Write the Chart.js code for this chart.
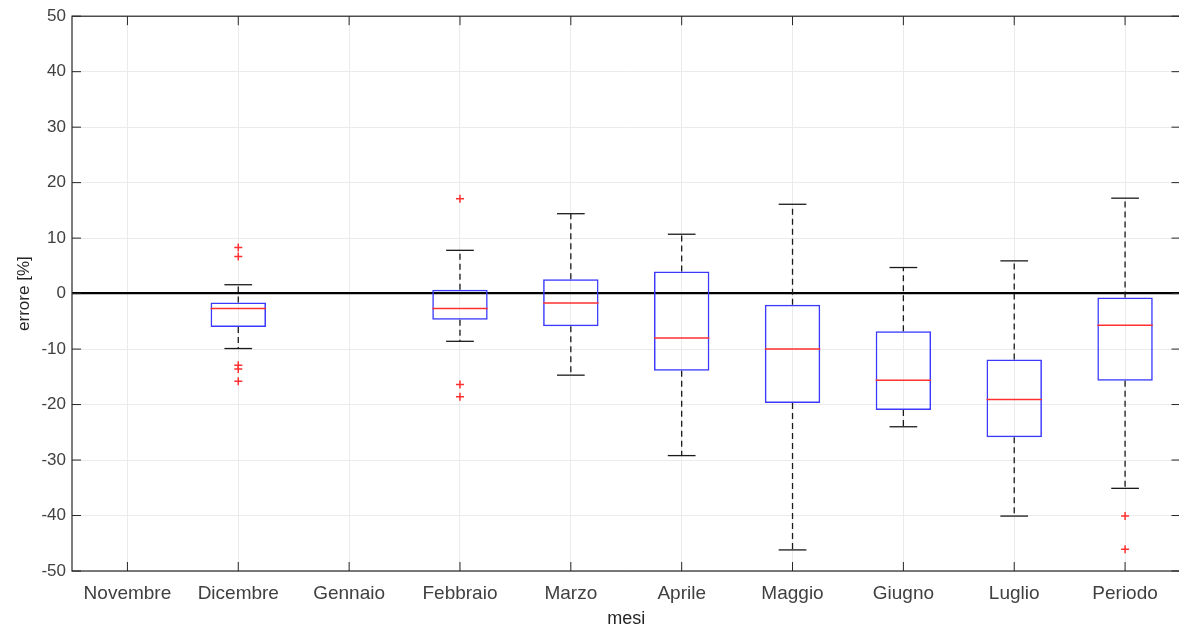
<!DOCTYPE html>
<html>
<head>
<meta charset="utf-8">
<script src="https://cdn.jsdelivr.net/npm/chart.js@4"></script>
<style>
  html, body { margin: 0; padding: 0; background: #fff; overflow: hidden; }
  canvas { display: block; }
</style>
</head>
<body>
<canvas id="chart-errore" width="1186" height="630"></canvas>
<script>
const categories = ['Novembre', 'Dicembre', 'Gennaio', 'Febbraio', 'Marzo', 'Aprile', 'Maggio', 'Giugno', 'Luglio', 'Periodo'];
const whiskerLow = [null, -9.9, null, -8.6, -14.7, -29.2, -46.2, -24.0, -40.1, -35.1];
const q1 = [null, -6.0, null, -4.7, -5.9, -13.9, -19.7, -21.0, -25.9, -15.7];
const medians = [null, -2.7, null, -2.7, -1.7, -8.0, -10.0, -15.6, -19.1, -5.7];
const q3 = [null, -1.6, null, 0.7, 2.6, 4.0, -2.0, -6.8, -11.9, -0.7];
const whiskerHigh = [null, 1.6, null, 7.8, 14.4, 10.7, 16.1, 4.7, 5.9, 17.2];
const outlierMonths = ['Dicembre', 'Dicembre', 'Dicembre', 'Dicembre', 'Dicembre', 'Febbraio', 'Febbraio', 'Febbraio', 'Periodo', 'Periodo'];
const outlierValues = [8.3, 6.7, -12.9, -13.6, -15.8, 17.1, -16.4, -18.6, -40.1, -46.1];
const yTicks = [-50, -40, -30, -20, -10, 0, 10, 20, 30, 40, 50];

const textColor = '#404040';
const gridColor = '#ebebeb';
const fontFamily = '"Liberation Sans", Arial, sans-serif';

// whiskers, caps, medians, axes box and inner tick marks
const boxParts = {
  id: 'boxParts',
  afterDatasetsDraw(chart) {
    const { ctx, chartArea: a } = chart;
    const x = chart.scales.x;
    const y = chart.scales.y;
    const step = x.getPixelForValue(1) - x.getPixelForValue(0);
    const seg = (x1, y1, x2, y2) => {
      ctx.beginPath();
      ctx.moveTo(x1, y1);
      ctx.lineTo(x2, y2);
      ctx.stroke();
    };
    ctx.save();
    categories.forEach((c, i) => {
      if (medians[i] == null) return;
      const cx = x.getPixelForValue(i);
      ctx.strokeStyle = '#1a1a1a';
      ctx.lineWidth = 1.3;
      ctx.setLineDash([6, 4]);
      seg(cx, y.getPixelForValue(q3[i]), cx, y.getPixelForValue(whiskerHigh[i]));
      seg(cx, y.getPixelForValue(q1[i]), cx, y.getPixelForValue(whiskerLow[i]));
      ctx.setLineDash([]);
      const cap = step * 0.125;
      seg(cx - cap, y.getPixelForValue(whiskerHigh[i]), cx + cap, y.getPixelForValue(whiskerHigh[i]));
      seg(cx - cap, y.getPixelForValue(whiskerLow[i]), cx + cap, y.getPixelForValue(whiskerLow[i]));
      ctx.strokeStyle = '#ff3030';
      ctx.lineWidth = 1.5;
      const half = step * 0.25;
      seg(cx - half, y.getPixelForValue(medians[i]), cx + half, y.getPixelForValue(medians[i]));
    });

    ctx.strokeStyle = '#262626';
    ctx.lineWidth = 1.2;
    ctx.strokeRect(a.left, a.top, a.right - a.left, a.bottom - a.top);
    ctx.lineWidth = 1;
    yTicks.forEach(v => {
      const py = y.getPixelForValue(v);
      seg(a.left, py, a.left + 9, py);
      seg(a.right, py, a.right - 9, py);
    });
    categories.forEach((c, i) => {
      const px = x.getPixelForValue(i);
      seg(px, a.bottom, px, a.bottom - 9);
      seg(px, a.top, px, a.top + 9);
    });
    ctx.restore();
  }
};

new Chart(document.getElementById('chart-errore'), {
  type: 'bar',
  data: {
    labels: categories,
    datasets: [{
      label: 'box',
      data: categories.map((c, i) => q1[i] == null ? null : [q1[i], q3[i]]),
      backgroundColor: 'rgba(0,0,0,0)',
      borderColor: '#3a3aff',
      borderWidth: 1.5,
      borderSkipped: false,
      barPercentage: 0.5,
      categoryPercentage: 1,
    }, {
      type: 'scatter',
      label: 'outliers',
      data: outlierMonths.map((m, i) => ({ x: m, y: outlierValues[i] })),
      pointStyle: 'cross',
      radius: 4,
      borderColor: '#ff3030',
      borderWidth: 1.5,
      backgroundColor: '#ff3030',
    }]
  },
  options: {
    responsive: false,
    animation: false,
    layout: { padding: { left: 0, right: 2, top: 14, bottom: 0 } },
    plugins: {
      legend: { display: false },
      tooltip: { enabled: false },
    },
    scales: {
      x: {
        type: 'category',
        offset: true,
        grid: { offset: false, color: gridColor, drawTicks: false },
        border: { display: false },
        ticks: { color: textColor, padding: 11, font: { family: fontFamily, size: 19 } },
        title: { display: true, text: 'mesi', color: '#262626', padding: { top: 0, bottom: 0 }, font: { family: fontFamily, size: 18 } },
        afterFit: s => { s.height = 59; },
      },
      y: {
        min: -50,
        max: 50,
        grid: {
          color: c => c.tick.value === 0 ? '#000000' : gridColor,
          lineWidth: c => c.tick.value === 0 ? 2.2 : 1,
          drawTicks: false,
        },
        border: { display: false },
        ticks: { stepSize: 10, color: textColor, padding: 6, font: { family: fontFamily, size: 17 } },
        title: { display: true, text: 'errore [%]', color: '#262626', padding: { top: 14, bottom: 0 }, font: { family: fontFamily, size: 17 } },
        afterFit: s => { s.width = 72; },
      }
    }
  },
  plugins: [boxParts],
});
</script>
</body>
</html>
